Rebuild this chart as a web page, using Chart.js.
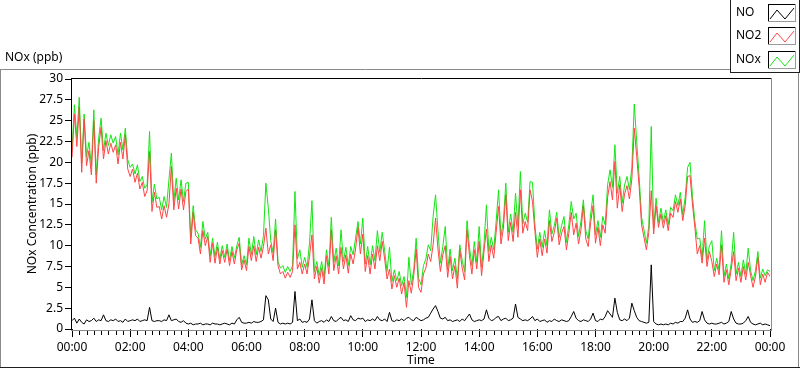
<!DOCTYPE html>
<html>
<head>
<meta charset="utf-8">
<script src="https://cdn.jsdelivr.net/npm/chart.js@4.4.1/dist/chart.umd.min.js"></script>
<style>
html, body { margin: 0; padding: 0; background: #fff; }
</style>
</head>
<body>
<canvas id="noxChart" width="800" height="369"></canvas>
<script>
// 5-minute samples, 00:00 .. 24:00 (one row per hour)
const no2 = [
  20.6, 25.8, 21.9, 26.6, 18.8, 25.2, 19.6, 21.4, 18.5, 25.0, 17.5, 21.8,
  24.2, 20.4, 22.6, 21.0, 22.3, 21.2, 22.1, 19.8, 22.4, 20.4, 23.3, 19.2,
  18.3, 19.2, 17.6, 18.7, 16.8, 17.6, 15.9, 16.6, 21.3, 14.1, 16.4, 14.6,
  14.7, 13.2, 14.8, 13.4, 15.0, 19.5, 14.3, 16.9, 14.4, 16.8, 14.3, 16.5,
  16.8, 10.2, 14.0, 11.2, 10.9, 9.0, 11.8, 10.0, 11.1, 8.0, 10.3, 7.9,
  9.8, 7.8, 9.4, 8.0, 9.6, 7.6, 9.3, 7.8, 9.5, 10.3, 7.1, 8.3,
  7.0, 9.9, 8.2, 10.0, 8.1, 9.8, 8.5, 9.9, 12.1, 9.0, 10.1, 8.2,
  11.9, 7.6, 6.6, 6.9, 6.1, 6.8, 6.2, 6.9, 12.5, 7.2, 8.0, 6.6,
  7.8, 6.6, 8.7, 11.3, 6.0, 7.5, 5.5, 7.3, 5.4, 8.8, 6.6, 11.9,
  7.0, 8.8, 6.6, 9.8, 7.2, 8.9, 6.7, 9.0, 7.8, 9.6, 12.2, 9.0,
  11.4, 6.9, 8.8, 6.6, 9.0, 7.2, 10.0, 8.2, 10.5, 8.4, 6.0, 7.2,
  4.8, 6.4, 5.0, 6.1, 4.2, 5.6, 2.6, 5.8, 4.3, 6.4, 9.6, 5.0,
  4.4, 6.6, 7.3, 9.0, 8.1, 10.1, 13.3, 9.6, 6.9, 8.9, 10.0, 6.2,
  8.7, 6.0, 7.6, 4.9, 9.5, 7.3, 5.9, 11.9, 8.8, 6.6, 9.5, 7.2,
  10.5, 6.4, 9.3, 12.0, 8.1, 10.1, 8.5, 11.6, 14.7, 10.2, 12.1, 16.1,
  10.6, 12.8, 10.5, 14.0, 11.0, 16.7, 11.5, 12.9, 11.8, 16.7, 15.3, 11.7,
  8.6, 10.8, 8.8, 10.8, 9.1, 13.0, 10.5, 11.6, 13.3, 10.1, 11.5, 12.3,
  9.5, 11.5, 14.0, 11.3, 12.7, 10.2, 11.9, 14.8, 10.8, 9.9, 12.8, 14.8,
  10.3, 12.2, 10.0, 12.5, 11.5, 15.8, 17.7, 15.5, 20.1, 14.5, 17.3, 14.1,
  16.2, 17.2, 15.6, 18.0, 24.1, 20.7, 17.1, 12.5, 11.0, 9.5, 11.6, 16.6,
  11.4, 14.8, 12.2, 13.8, 12.1, 13.6, 11.8, 13.9, 13.4, 15.3, 14.0, 15.6,
  13.0, 14.8, 18.3, 18.4, 15.0, 12.2, 9.0, 10.0, 7.9, 10.9, 7.5, 9.3,
  8.1, 6.3, 7.8, 6.5, 10.1, 5.6, 7.1, 5.3, 7.2, 9.3, 5.8, 7.3,
  5.6, 7.5, 5.9, 8.0, 6.4, 5.0, 6.3, 8.6, 5.3, 6.6, 5.6, 6.8, 6.3
];
const nox = [
  21.5, 26.9, 23.0, 27.8, 19.9, 25.8, 20.7, 22.4, 19.6, 26.3, 18.5, 22.9,
  25.3, 21.4, 23.5, 22.0, 23.3, 22.3, 23.1, 20.9, 23.5, 21.5, 24.1, 20.3,
  19.4, 19.8, 18.6, 19.7, 17.7, 18.3, 16.9, 17.3, 23.7, 15.2, 17.4, 15.6,
  15.8, 14.3, 15.9, 14.6, 17.9, 21.1, 15.3, 18.1, 15.5, 17.9, 15.3, 17.5,
  17.6, 11.0, 14.8, 11.9, 11.5, 9.8, 12.9, 10.8, 11.6, 8.8, 10.9, 8.7,
  10.4, 8.4, 10.0, 8.6, 10.2, 8.2, 9.9, 8.5, 10.0, 11.0, 7.7, 8.8,
  7.7, 10.9, 8.9, 11.1, 8.9, 10.7, 9.3, 11.2, 17.5, 14.5, 10.6, 9.1,
  13.2, 8.1, 7.3, 7.6, 6.8, 7.5, 6.9, 7.6, 16.5, 8.4, 9.5, 7.4,
  8.6, 7.4, 10.3, 15.4, 6.9, 8.1, 6.4, 8.1, 6.2, 9.5, 7.5, 13.4,
  8.0, 9.7, 7.6, 11.9, 8.1, 9.8, 7.6, 9.9, 8.9, 10.9, 12.9, 10.2,
  13.3, 7.8, 9.9, 7.7, 10.0, 8.2, 11.8, 9.2, 11.6, 9.4, 6.9, 9.8,
  5.7, 7.1, 5.8, 6.9, 5.2, 6.3, 3.8, 8.6, 5.3, 7.1, 10.9, 6.1,
  5.3, 7.6, 8.4, 10.1, 9.4, 13.5, 16.1, 11.8, 7.9, 9.9, 12.3, 7.1,
  9.6, 7.0, 8.5, 6.0, 10.1, 8.2, 6.9, 13.0, 9.8, 7.6, 10.5, 8.0,
  12.3, 7.4, 10.2, 14.9, 9.3, 11.0, 9.5, 12.9, 16.7, 11.2, 13.0, 17.5,
  11.6, 13.8, 11.6, 16.3, 12.3, 18.9, 12.6, 13.9, 12.8, 17.7, 17.6, 12.5,
  9.6, 11.6, 9.8, 11.8, 10.0, 14.3, 11.4, 12.4, 14.0, 11.0, 12.4, 13.5,
  10.4, 12.5, 15.3, 13.2, 13.9, 11.1, 12.9, 15.5, 11.8, 10.8, 13.8, 16.1,
  11.3, 13.0, 11.0, 13.5, 12.5, 17.3, 19.1, 17.0, 22.1, 16.3, 18.3, 15.1,
  17.3, 18.3, 16.7, 19.4, 27.0, 22.5, 18.3, 13.4, 11.9, 10.3, 12.4, 24.3,
  12.1, 15.7, 12.8, 14.5, 12.8, 14.3, 12.5, 14.6, 14.2, 16.1, 14.8, 16.4,
  13.7, 15.8, 19.4, 20.0, 16.0, 12.9, 10.8, 10.9, 8.6, 13.0, 8.3, 10.0,
  10.6, 7.0, 8.5, 7.1, 11.8, 6.3, 7.8, 6.0, 7.9, 11.6, 6.6, 8.0,
  6.3, 8.3, 6.6, 9.7, 7.0, 5.8, 7.0, 9.3, 6.1, 7.2, 6.4, 7.1, 6.9
];
const no = [
  1.0, 1.3, 0.7, 1.2, 0.8, 0.6, 1.1, 0.9, 1.0, 1.3, 0.9, 1.1,
  1.0, 1.7, 1.0, 0.9, 1.1, 1.0, 1.2, 0.9, 1.0, 0.8, 1.2, 0.9,
  1.0, 1.1, 1.0, 1.2, 0.9, 1.0, 1.1, 1.0, 2.6, 1.0, 0.9, 1.0,
  1.0, 0.9, 1.1, 1.0, 1.7, 1.0, 1.1, 1.2, 0.9, 0.8, 1.0, 0.7,
  0.6, 0.7, 0.5, 0.6, 0.6, 0.7, 0.5, 0.6, 0.6, 0.5, 0.7, 0.6,
  0.6, 0.5, 0.6, 0.7, 0.6, 0.5, 0.7, 0.6, 1.1, 1.4, 0.8, 0.7,
  0.7, 0.8, 0.7, 0.9, 0.8, 0.8, 0.9, 1.1, 4.0, 3.5, 1.2, 0.9,
  2.5, 0.8, 0.6, 0.7, 0.6, 0.7, 0.6, 0.8, 4.5, 1.0, 1.2, 0.8,
  0.9, 0.8, 1.2, 3.5, 1.0, 0.7, 0.9, 1.0, 0.8, 1.1, 0.9, 1.5,
  1.0, 0.9, 1.2, 1.4, 1.0, 1.1, 0.9, 1.6, 1.1, 1.0, 1.3, 1.2,
  1.3, 0.9, 1.1, 1.0, 1.2, 1.0, 1.5, 1.1, 1.0, 1.2, 0.9, 2.0,
  1.0, 0.9, 1.1, 1.0, 1.2, 1.0, 1.3, 1.4, 1.1, 1.0, 1.4, 1.2,
  1.0, 1.1, 1.3, 1.4, 1.9, 2.4, 2.8, 2.1, 1.3, 1.2, 1.4, 1.0,
  1.1, 0.9, 1.0, 1.1, 0.9, 1.2, 1.0, 1.4, 1.8, 1.1, 0.9, 1.0,
  1.1, 1.0, 1.2, 2.3, 1.3, 1.0, 1.1, 1.4, 1.5, 1.0, 1.2, 1.3,
  1.0, 1.1, 1.3, 3.0, 1.4, 1.2, 1.0, 1.1, 1.0, 1.2, 1.5, 1.0,
  1.2, 0.9, 1.0, 1.1, 0.8, 1.0, 0.9, 1.2, 1.0, 0.9, 1.1, 1.0,
  0.9, 1.0, 1.5, 2.1, 1.3, 1.0, 0.9, 1.1, 1.0, 0.9, 1.2, 1.9,
  1.0, 0.9, 1.2, 1.1, 1.5, 2.2, 1.8, 1.4, 3.7, 2.0, 1.1, 1.0,
  1.2, 1.0, 1.3, 3.1, 2.2, 1.4, 1.0, 0.9, 0.8, 0.7, 0.8, 7.7,
  0.9, 0.6, 0.5, 0.6, 0.5, 0.6, 0.5, 0.7, 0.6, 0.8, 0.7, 0.9,
  0.9, 1.3, 2.3, 1.2, 0.8, 0.9, 0.8, 1.0, 2.1, 1.1, 0.7, 0.6,
  0.7, 0.6, 0.6, 0.7, 0.8, 0.6, 0.7, 0.9, 2.1, 1.2, 0.7, 0.6,
  0.6, 0.7, 1.0, 1.5, 0.8, 0.6, 0.5, 0.6, 0.7, 0.5, 0.6, 0.5, 0.4
];
const sampleMinutes = 5;
const xTickLabels = ['00:00', '02:00', '04:00', '06:00', '08:00', '10:00', '12:00',
  '14:00', '16:00', '18:00', '20:00', '22:00', '00:00'];
const yTickLabels = ['0', '2.5', '5', '7.5', '10', '12.5', '15', '17.5', '20', '22.5', '25', '27.5', '30'];
const seriesNames = ['NO', 'NO2', 'NOx'];
const seriesColors = ['#000000', '#ff4545', '#14e614'];

const FONT = "'Noto Sans', sans-serif";
const pts = arr => arr.map((v, i) => ({ x: i * sampleMinutes, y: v }));

function hline(ctx, color, x1, y, x2) {
    ctx.strokeStyle = color;
    ctx.beginPath(); ctx.moveTo(x1, y); ctx.lineTo(x2, y); ctx.stroke();
}
function vline(ctx, color, x, y1, y2) {
    ctx.strokeStyle = color;
    ctx.beginPath(); ctx.moveTo(x, y1); ctx.lineTo(x, y2); ctx.stroke();
}

const panel = {
    id: 'panel',
    beforeDraw(chart) {
        const ctx = chart.ctx;
        ctx.save();
        ctx.fillStyle = '#fff';
        ctx.fillRect(0, 0, chart.width, chart.height);
        ctx.restore();
    },
    afterDraw(chart) {
        const ctx = chart.ctx;
        const a = chart.chartArea;
        const xs = chart.scales.x;
        ctx.save();
        ctx.lineWidth = 1;

        // outer panel border
        hline(ctx, '#8a8a8a', 0, 69.5, 731);
        vline(ctx, '#8a8a8a', 0.5, 69, 368);
        vline(ctx, '#8a8a8a', 798.5, 72, 368);
        hline(ctx, '#202020', 0, 367.5, 800);

        // plot frame
        hline(ctx, '#000', a.left - 1, a.top - 0.5, a.right + 2);
        vline(ctx, '#000', a.left - 0.5, a.top - 1, a.bottom + 2);
        hline(ctx, '#8a8a8a', a.left - 1, a.bottom + 1.5, a.right + 2);
        vline(ctx, '#8a8a8a', a.right + 1.5, a.top - 1, a.bottom + 2);

        // minor ticks every 15 minutes
        for (let m = 15; m < 1440; m += 15) {
            if (m % 120 === 0) continue;
            const x = Math.round(xs.getPixelForValue(m)) + 0.5;
            vline(ctx, '#000', x, a.bottom + 2, a.bottom + 6);
        }

        // chart label
        ctx.fillStyle = '#000';
        ctx.font = '12px ' + FONT;
        ctx.textBaseline = 'middle';
        ctx.textAlign = 'left';
        ctx.fillText('NOx (ppb)', 5, 58);

        // legend box
        vline(ctx, '#202020', 730.5, 0, 73);
        hline(ctx, '#202020', 730, 72.5, 800);
        vline(ctx, '#202020', 799.5, 0, 73);
        const rows = [13, 36, 60];
        seriesNames.forEach((name, i) => {
            const cy = rows[i];
            ctx.fillStyle = '#000';
            ctx.fillText(name, 736, cy);
            const bx = 768, by = cy - 9, bw = 28, bh = 18;
            hline(ctx, '#000', bx, by + 0.5, bx + bw);
            vline(ctx, '#000', bx + 0.5, by, by + bh);
            hline(ctx, '#9a9a9a', bx, by + bh - 0.5, bx + bw);
            vline(ctx, '#9a9a9a', bx + bw - 0.5, by, by + bh);
            ctx.strokeStyle = seriesColors[i];
            ctx.beginPath();
            ctx.moveTo(bx + 2, by + bh - 3);
            ctx.lineTo(bx + 9, by + 6);
            ctx.lineTo(bx + 17, by + bh - 3);
            ctx.lineTo(bx + 26, by + 4);
            ctx.stroke();
        });
        ctx.restore();
    }
};

const ctx = document.getElementById('noxChart');

new Chart(ctx, {
    type: 'line',
    data: {
        datasets: [no, no2, nox].map((arr, i) => ({
            label: seriesNames[i],
            data: pts(arr),
            borderColor: seriesColors[i],
            borderWidth: 1,
            pointRadius: 0,
            tension: 0,
            fill: false
        }))
    },
    options: {
        responsive: false,
        animation: false,
        events: [],
        layout: { padding: { top: 79, right: 30, left: 0, bottom: 0 } },
        plugins: {
            legend: { display: false },
            tooltip: { enabled: false }
        },
        scales: {
            x: {
                type: 'linear',
                min: 0,
                max: 1440,
                afterFit: s => { s.height = 40; },
                border: { display: false },
                grid: { drawOnChartArea: false, tickLength: 8, color: '#000', offset: false },
                ticks: {
                    stepSize: 120,
                    maxRotation: 0,
                    autoSkip: false,
                    padding: 3,
                    color: '#000',
                    font: { family: FONT, size: 12 },
                    callback: (v, i) => xTickLabels[i]
                },
                title: {
                    display: true,
                    text: 'Time',
                    color: '#000',
                    font: { family: FONT, size: 12 },
                    padding: { top: 0, bottom: 1 }
                }
            },
            y: {
                min: 0,
                max: 30,
                afterFit: s => { s.width = 72; },
                border: { display: false },
                grid: { drawOnChartArea: false, tickLength: 7, color: '#000' },
                ticks: {
                    stepSize: 2.5,
                    autoSkip: false,
                    padding: 2,
                    color: '#000',
                    font: { family: FONT, size: 12 },
                    callback: (v, i) => yTickLabels[i]
                },
                title: {
                    display: true,
                    text: 'NOx Concentration (ppb)',
                    color: '#000',
                    font: { family: FONT, size: 12 },
                    padding: { top: 25, bottom: 0 }
                }
            }
        }
    },
    plugins: [panel]
});
</script>
</body>
</html>
